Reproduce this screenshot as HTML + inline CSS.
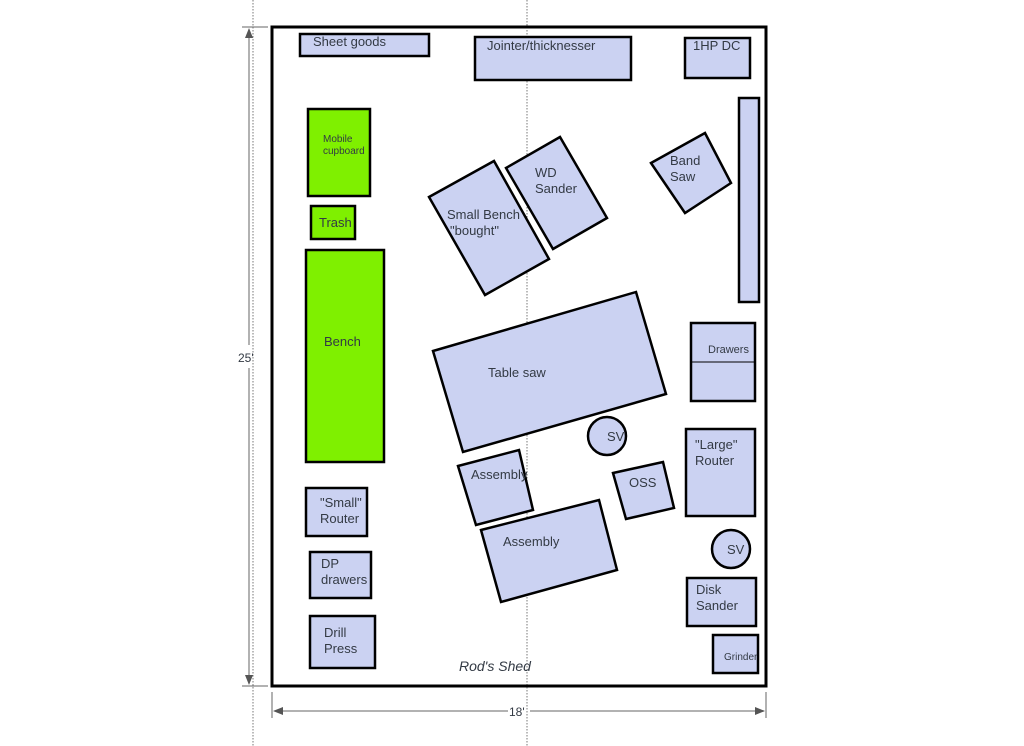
<!DOCTYPE html>
<html><head><meta charset="utf-8"><style>
html,body{margin:0;padding:0;background:#fff;}
svg{display:block;}
text{font-family:"Liberation Sans",sans-serif;fill:#333a44;}
</style></head><body>
<svg width="1024" height="746" viewBox="0 0 1024 746" xmlns="http://www.w3.org/2000/svg">
<defs>
<marker id="ar" markerWidth="10" markerHeight="8" refX="9" refY="4" orient="auto" markerUnits="userSpaceOnUse"><path d="M0,0 L10,4 L0,8 z" fill="#555"/></marker>
</defs>
<!-- dotted guides -->
<line x1="253" y1="0" x2="253" y2="746" stroke="#777" stroke-width="1" stroke-dasharray="1.5,1.5"/>
<line x1="527" y1="0" x2="527" y2="746" stroke="#777" stroke-width="1" stroke-dasharray="1.5,1.5"/>
<!-- dimension lines -->
<g stroke="#666" stroke-width="1" fill="none">
<line x1="242" y1="27" x2="268" y2="27"/>
<line x1="242" y1="686" x2="268" y2="686"/>
<line x1="249" y1="345" x2="249" y2="29" marker-end="url(#ar)"/>
<line x1="249" y1="368" x2="249" y2="684" marker-end="url(#ar)"/>
<line x1="272" y1="692" x2="272" y2="718"/>
<line x1="766" y1="692" x2="766" y2="718"/>
<line x1="508" y1="711" x2="274" y2="711" marker-end="url(#ar)"/>
<line x1="530" y1="711" x2="764" y2="711" marker-end="url(#ar)"/>
</g>
<text x="238" y="362" font-size="12" fill="#555">25'</text>
<text x="509" y="716" font-size="12" fill="#555">18'</text>
<!-- room -->
<rect x="272" y="27" width="494" height="659" fill="none" stroke="#000" stroke-width="3"/>
<g stroke="#000" stroke-width="2.5" fill="#cbd2f2">
<rect x="300" y="34" width="129" height="22"/>
<rect x="475" y="37" width="156" height="43"/>
<rect x="685" y="38" width="65" height="40"/>
<rect x="739" y="98" width="20" height="204"/>
<polygon points="429,197 494,161 549,259 485,295"/>
<polygon points="506,168 560,137 607,218 553,249"/>
<polygon points="651,163 705,133 731,183 685,213"/>
<polygon points="433,351 636,292 666,394 463,452"/>
<polygon points="458,466 519,450 533,510 476,525"/>
<polygon points="481,530 599,500 617,570 501,602"/>
<polygon points="613,473 663,462 674,508 626,519"/>
<circle cx="607" cy="436" r="19"/>
<circle cx="731" cy="549" r="19"/>
<rect x="691" y="323" width="64" height="78"/>
<rect x="686" y="429" width="69" height="87"/>
<rect x="687" y="578" width="69" height="48"/>
<rect x="713" y="635" width="45" height="38"/>
<rect x="306" y="488" width="61" height="48"/>
<rect x="310" y="552" width="61" height="46"/>
<rect x="310" y="616" width="65" height="52"/>
</g>
<line x1="691" y1="362" x2="755" y2="362" stroke="#000" stroke-width="1"/>
<g stroke="#000" stroke-width="2.5" fill="#7ff000">
<rect x="308" y="109" width="62" height="87"/>
<rect x="311" y="206" width="44" height="33"/>
<rect x="306" y="250" width="78" height="212"/>
</g>
<!-- labels -->
<g font-size="13">
<text x="313" y="46">Sheet goods</text>
<text x="487" y="50">Jointer/thicknesser</text>
<text x="693" y="50">1HP DC</text>
<text x="323" y="142" font-size="10" fill="#2a4a00">Mobile</text>
<text x="323" y="154" font-size="10" fill="#2a4a00">cupboard</text>
<text x="319" y="227" fill="#2a4a00">Trash</text>
<text x="324" y="346" fill="#2a4a00">Bench</text>
<text x="447" y="219">Small Bench</text>
<text x="450" y="235">"bought"</text>
<text x="535" y="177">WD</text>
<text x="535" y="193">Sander</text>
<text x="670" y="165">Band</text>
<text x="670" y="181">Saw</text>
<text x="488" y="377">Table saw</text>
<text x="471" y="479">Assembly</text>
<text x="503" y="546">Assembly</text>
<text x="629" y="487">OSS</text>
<text x="607" y="441">SV</text>
<text x="727" y="554">SV</text>
<text x="708" y="353" font-size="11">Drawers</text>
<text x="695" y="449">"Large"</text>
<text x="695" y="465">Router</text>
<text x="696" y="594">Disk</text>
<text x="696" y="610">Sander</text>
<text x="724" y="660" font-size="10">Grinder</text>
<text x="320" y="507">"Small"</text>
<text x="320" y="523">Router</text>
<text x="321" y="568">DP</text>
<text x="321" y="584">drawers</text>
<text x="324" y="637">Drill</text>
<text x="324" y="653">Press</text>
<text x="459" y="671" font-size="14" font-style="italic">Rod's Shed</text>
</g>
</svg>
</body></html>
